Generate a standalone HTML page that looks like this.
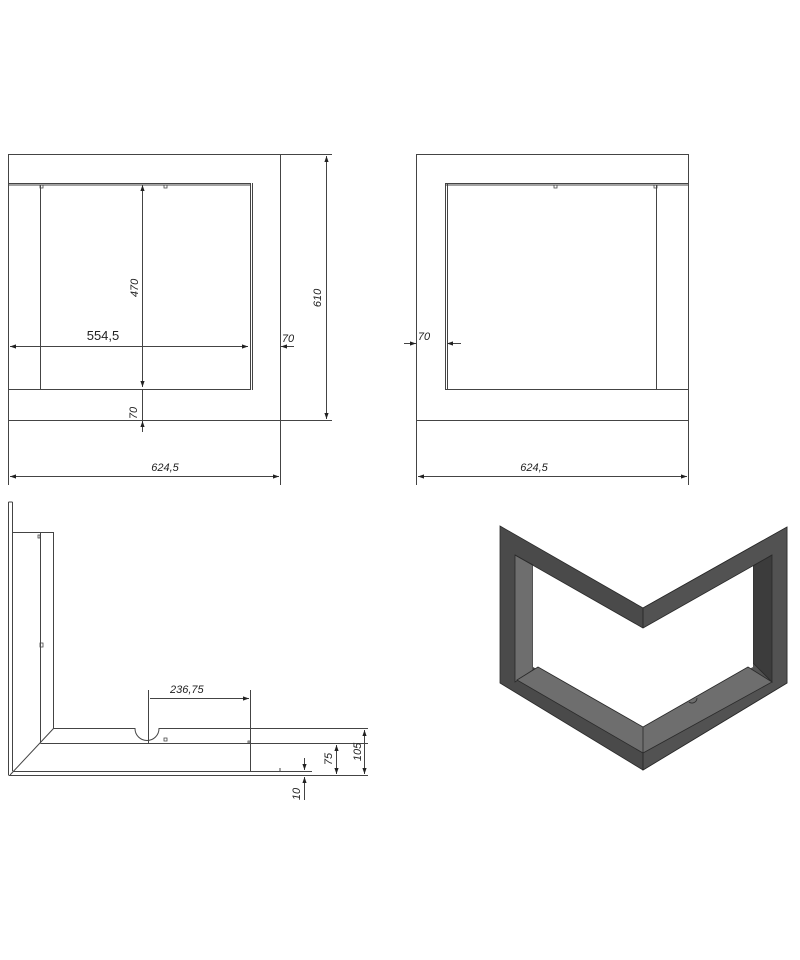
<!DOCTYPE html>
<html><head><meta charset="utf-8"><style>
html,body{margin:0;padding:0;background:#fff;width:800px;height:960px;overflow:hidden}
svg{display:block}
text{font-family:"Liberation Sans",sans-serif;fill:#222}
.d{font-style:italic;font-size:11px}
</style></head><body>
<svg width="800" height="960" viewBox="0 0 800 960" xmlns="http://www.w3.org/2000/svg">
<defs>
<marker id="a" viewBox="0 0 10 10" refX="10" refY="5" markerWidth="8" markerHeight="6" orient="auto-start-reverse" markerUnits="userSpaceOnUse"><path d="M0,1.5 L10,5 L0,8.5z" fill="#222"/></marker>
</defs>
<g stroke="#444" stroke-width="1" fill="none">
<rect x="8.5" y="154.5" width="272" height="266"/>
<path d="M8.5 183.5 H251 M8.5 185 H251 M8.5 389.5 H251 M40.5 185 V389 M250.5 183 V390 M252.5 183 V390"/>
<path d="M40 185 v3 h3 v-3 M164 185 v3 h3 v-3" stroke-width="0.8"/>
<path d="M142.5 185 V387" marker-start="url(#a)" marker-end="url(#a)"/>
<path d="M142.5 389 V432"/>
<path d="M142.5 432 V421" marker-end="url(#a)"/>
<path d="M10 346.5 H248" marker-start="url(#a)" marker-end="url(#a)"/>
<path d="M294 346.5 H281" marker-end="url(#a)"/>
<path d="M280.5 420 V485 M8.5 420 V485"/>
<path d="M280 154.5 H332 M280 420.5 H332"/>
<path d="M326.5 156 V419" marker-start="url(#a)" marker-end="url(#a)"/>
<path d="M10 476.5 H279" marker-start="url(#a)" marker-end="url(#a)"/>
<rect x="416.5" y="154.5" width="272" height="266"/>
<path d="M445 183.5 H688.5 M445 185 H688 M445 389.5 H688 M656.5 185 V389 M445.5 183 V390 M447.5 183 V390"/>
<path d="M554 185 v3 h3 v-3 M654 185 v3 h3 v-3" stroke-width="0.8"/>
<path d="M404 343.5 H416" marker-end="url(#a)"/>
<path d="M461 343.5 H447" marker-end="url(#a)"/>
<path d="M416.5 420 V485 M688.5 420 V485"/>
<path d="M418 476.5 H687" marker-start="url(#a)" marker-end="url(#a)"/>
<path d="M8.5 502 V775 M12.5 502 V771 M8.5 502 H12.5"/>
<path d="M12.5 532.5 H53.5 V728.5 M40.5 532 V743.5 M53.5 728.5 L10 775"/>
<path d="M53.5 728.5 H135 A9 9 0 0 0 159 728.5 H368 M40.5 743.5 H368"/>
<path d="M12.5 771.5 H312 M8.5 775.5 H368"/>
<path d="M38 535 h2 v3 h-2z M40 643 h3 v4 h-3z M164 738 h3 v3 h-3z M248 741 h2 v2 h-2z" stroke-width="0.8"/>
<path d="M148.5 690 V743 M250.5 690 V771"/>
<path d="M150 698.5 H249" marker-end="url(#a)"/>
<path d="M364.5 730 V774" marker-start="url(#a)" marker-end="url(#a)"/>
<path d="M336.5 745 V774" marker-start="url(#a)" marker-end="url(#a)"/>
<path d="M304.5 758 V770" marker-end="url(#a)"/>
<path d="M304.5 800 V777" marker-end="url(#a)"/>
<path d="M280 768 v3"/>
</g>
<text class="d" x="288" y="342" text-anchor="middle">70</text>
<text x="103" y="340" font-size="13" text-anchor="middle">554,5</text>
<text class="d" transform="translate(138,288) rotate(-90)" text-anchor="middle">470</text>
<text class="d" transform="translate(137,413) rotate(-90)" text-anchor="middle">70</text>
<text class="d" transform="translate(321,298) rotate(-90)" text-anchor="middle">610</text>
<text class="d" x="165" y="471" text-anchor="middle">624,5</text>
<text class="d" x="424" y="340" text-anchor="middle">70</text>
<text class="d" x="534" y="471" text-anchor="middle">624,5</text>
<text class="d" x="170" y="693">236,75</text>
<text class="d" transform="translate(361,752) rotate(-90)" text-anchor="middle">105</text>
<text class="d" transform="translate(332,759) rotate(-90)" text-anchor="middle">75</text>
<text class="d" transform="translate(300,794) rotate(-90)" text-anchor="middle">10</text>
<g stroke="#2a2a2a" stroke-width="0.8">
<polygon points="500,526 643,608 787,527 787,683 643,770 500,683" fill="#4a4a4a"/>
<polygon points="643,608 787,527 787,683 643,770" fill="#525252"/>
<polygon points="515,555 533,565 533,670 515,682" fill="#6e6e6e"/>
<polygon points="772,555 753,566 753,663 772,682" fill="#3c3c3c"/>
<polygon points="533,565 643,628 753,566 753,667 643,727 533,667" fill="#fff" stroke="none"/>
<path d="M515 555 L643 628 L772 555 M643 608 V628" fill="none"/>
<polygon points="517,680 538,667 643,727 748,667 772,682 643,753" fill="#6e6e6e"/>
<path d="M643 727 V753 M643 753 V770" fill="none"/>
<path d="M689 702 a5 5 0 0 0 8 -4" fill="none"/>
</g>
</svg>
</body></html>
